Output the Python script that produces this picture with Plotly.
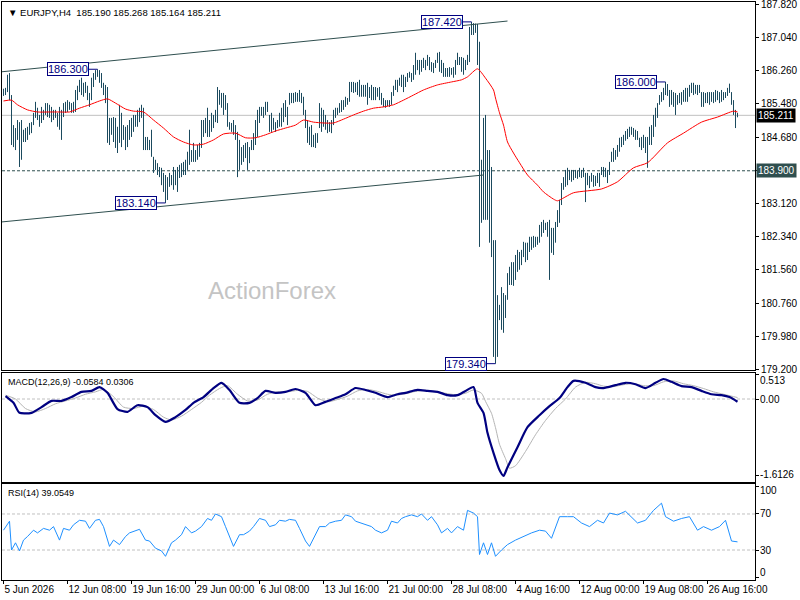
import plotly.graph_objects as go
from plotly.subplots import make_subplots

# EURJPY H4 bars (high / low per bar, 2px per bar)
bar_high = [
    185.84, 185.86, 186.17, 186.21, 185.69, 184.98, 184.91, 185.10, 185.05, 185.10,
    184.87, 184.91, 184.94, 185.03, 185.05, 185.27, 185.53, 185.39, 185.22, 185.41,
    185.34, 185.50, 185.50, 185.46, 185.41, 185.34, 185.34, 185.27, 185.41, 185.34,
    185.50, 185.53, 185.57, 185.53, 185.50, 185.53, 185.81, 185.91, 186.05, 186.10,
    185.98, 186.00, 185.91, 185.74, 186.10, 186.21, 186.28, 186.30, 186.28, 186.21,
    185.98, 185.93, 185.88, 185.15, 185.15, 185.17, 185.15, 184.94, 185.46, 185.27,
    184.98, 184.94, 184.98, 185.10, 185.15, 185.22, 185.22, 185.34, 185.39, 185.46,
    185.39, 184.70, 184.70, 184.63, 184.87, 184.23, 184.16, 184.08, 183.99, 183.97,
    183.85, 183.80, 183.75, 183.85, 183.80, 183.99, 183.92, 183.99, 184.04, 184.08,
    184.11, 184.16, 184.35, 184.87, 184.39, 184.56, 184.39, 184.51, 184.56, 185.10,
    185.10, 185.15, 185.39, 185.10, 185.27, 185.22, 185.34, 185.88, 185.81, 185.74,
    185.74, 185.69, 185.50, 185.05, 185.03, 185.10, 184.98, 184.82, 184.63, 184.46,
    184.51, 184.56, 184.58, 184.46, 184.63, 184.79, 185.10, 185.34, 185.41, 185.41,
    185.41, 185.53, 185.53, 185.22, 185.27, 185.15, 185.05, 185.10, 185.27, 185.39,
    185.50, 185.57, 185.41, 185.74, 185.74, 185.74, 185.76, 185.74, 185.81, 185.74,
    185.65, 185.34, 185.10, 184.94, 184.98, 184.75, 184.79, 184.79, 185.50, 185.39,
    185.34, 185.22, 185.10, 185.05, 185.10, 185.34, 185.39, 185.39, 185.50, 185.57,
    185.57, 185.65, 185.62, 186.00, 186.00, 186.00, 185.98, 186.00, 186.05, 185.93,
    185.93, 185.93, 185.98, 185.88, 185.93, 185.88, 185.88, 185.86, 185.88, 185.74,
    185.62, 185.57, 185.57, 185.57, 185.76, 185.91, 186.05, 186.05, 186.10, 186.17,
    186.17, 186.12, 186.21, 186.24, 186.21, 186.40, 186.69, 186.52, 186.52, 186.52,
    186.57, 186.52, 186.64, 186.59, 186.47, 186.45, 186.52, 186.69, 186.71, 186.52,
    186.45, 186.33, 186.33, 186.35, 186.33, 186.35, 186.52, 186.69, 186.59, 186.59,
    186.57, 186.52, 186.64, 187.30, 187.42, 187.39, 187.38, 187.37, 186.95, 184.16,
    185.15, 185.22, 184.39, 184.39, 183.99, 182.26, 182.26, 180.96, 180.73, 181.15,
    181.01, 180.96, 181.48, 181.63, 181.74, 181.74, 181.91, 182.03, 181.98, 182.03,
    182.22, 182.20, 182.20, 182.34, 182.34, 182.36, 182.34, 182.34, 182.62, 182.69,
    182.74, 182.67, 182.69, 182.74, 182.55, 182.55, 182.69, 182.97, 183.21, 183.61,
    183.75, 183.92, 183.97, 183.92, 183.92, 183.92, 183.92, 183.90, 183.97, 183.92,
    183.97, 183.85, 183.85, 183.78, 183.85, 183.80, 183.78, 183.85, 183.85, 183.99,
    183.99, 183.97, 183.92, 184.11, 184.35, 184.44, 184.39, 184.51, 184.68, 184.70,
    184.75, 184.84, 184.89, 184.94, 184.94, 184.91, 184.87, 184.84, 184.68, 184.70,
    184.75, 184.70, 184.70, 184.94, 184.98, 185.22, 185.39, 185.50, 185.69, 185.76,
    185.86, 186.00, 185.95, 185.81, 185.81, 185.76, 185.74, 185.69, 185.74, 185.76,
    185.81, 185.86, 185.86, 185.93, 185.98, 185.98, 185.93, 185.93, 185.93, 185.76,
    185.76, 185.74, 185.76, 185.76, 185.76, 185.76, 185.81, 185.79, 185.76, 185.81,
    185.76, 185.76, 185.86, 185.96, 185.76, 185.57, 185.34, 185.268,
]
bar_low = [
    185.67, 185.69, 185.76, 185.57, 184.51, 184.46, 184.39, 184.63, 183.99, 184.16,
    184.58, 184.58, 184.63, 184.75, 184.79, 184.98, 185.15, 185.10, 184.94, 185.03,
    185.10, 185.22, 185.17, 185.15, 185.05, 185.10, 185.15, 184.94, 184.87, 184.63,
    185.17, 185.27, 185.29, 185.34, 185.27, 185.27, 185.29, 185.57, 185.76, 185.69,
    185.65, 185.74, 185.57, 185.41, 185.57, 185.88, 186.05, 186.12, 185.98, 185.86,
    185.69, 185.50, 184.56, 184.51, 184.75, 184.58, 184.44, 184.32, 184.56, 184.46,
    184.63, 184.39, 184.46, 184.63, 184.70, 184.82, 184.94, 184.94, 185.05, 185.15,
    184.39, 184.39, 184.39, 184.39, 184.23, 183.85, 183.92, 183.80, 183.75, 183.56,
    183.40, 183.14, 183.21, 183.52, 183.56, 183.45, 183.56, 183.40, 183.73, 183.75,
    183.80, 183.80, 183.92, 184.04, 184.11, 184.11, 184.11, 184.16, 184.23, 184.44,
    184.70, 184.79, 184.70, 184.70, 184.82, 184.91, 185.05, 185.03, 185.46, 185.39,
    185.22, 185.34, 184.94, 184.87, 184.82, 184.75, 184.63, 183.75, 183.92, 184.04,
    184.11, 184.20, 183.92, 184.08, 184.39, 184.39, 184.51, 184.70, 185.03, 185.20,
    185.15, 185.22, 185.29, 184.82, 184.82, 184.87, 184.82, 184.91, 184.94, 184.94,
    185.05, 185.17, 184.98, 185.46, 185.50, 185.50, 185.53, 185.53, 185.53, 185.50,
    185.22, 184.91, 184.56, 184.51, 184.46, 184.46, 184.44, 184.56, 184.91, 184.82,
    184.94, 184.87, 184.79, 184.82, 184.79, 184.98, 185.15, 185.22, 185.27, 185.29,
    185.34, 185.41, 185.46, 185.53, 185.76, 185.74, 185.76, 185.69, 185.65, 185.65,
    185.65, 185.65, 185.46, 185.62, 185.57, 185.57, 185.57, 185.65, 185.57, 185.46,
    185.41, 185.39, 185.43, 185.41, 185.46, 185.67, 185.81, 185.76, 185.91, 185.88,
    185.76, 185.88, 186.00, 186.10, 186.00, 186.05, 186.17, 186.28, 186.17, 186.24,
    186.33, 186.28, 186.38, 186.28, 186.24, 186.21, 186.33, 186.45, 186.24, 186.21,
    186.12, 186.12, 186.12, 186.12, 186.17, 186.10, 186.17, 186.40, 186.40, 186.24,
    186.17, 186.28, 186.40, 186.47, 187.11, 187.11, 187.16, 186.40, 182.10, 182.67,
    182.74, 182.74, 182.74, 182.20, 181.86, 179.50, 179.34, 179.50, 180.37, 180.14,
    180.07, 180.42, 180.85, 181.20, 181.20, 181.18, 181.32, 181.51, 181.56, 181.67,
    181.86, 181.74, 181.79, 181.98, 182.03, 182.08, 182.10, 182.15, 182.20, 182.34,
    182.43, 182.50, 182.34, 181.32, 181.96, 181.91, 182.20, 182.57, 182.67, 183.09,
    183.45, 183.52, 183.56, 183.68, 183.64, 183.68, 183.73, 183.71, 183.75, 183.73,
    183.75, 183.16, 183.56, 183.49, 183.64, 183.52, 183.54, 183.61, 183.52, 183.80,
    183.75, 183.75, 183.61, 183.80, 184.11, 184.11, 184.16, 184.23, 184.35, 184.46,
    184.51, 184.61, 184.65, 184.70, 184.75, 184.70, 184.63, 184.63, 184.46, 184.39,
    184.44, 184.32, 183.97, 184.51, 184.51, 184.70, 184.94, 185.15, 185.46, 185.53,
    185.57, 185.69, 185.67, 185.41, 185.46, 185.41, 185.22, 185.46, 185.50, 185.46,
    185.53, 185.53, 185.53, 185.65, 185.74, 185.69, 185.72, 185.69, 185.74, 185.41,
    185.41, 185.50, 185.50, 185.46, 185.53, 185.50, 185.53, 185.57, 185.50, 185.53,
    185.57, 185.62, 185.67, 185.74, 185.46, 185.22, 184.91, 185.164,
]
last_ohlc = [185.190, 185.268, 185.164, 185.211]

# red moving average, sampled along the curve
ma_bar = [0, 4, 7, 12, 17, 23, 28, 33, 38, 43, 48, 52, 56, 61, 65, 70, 75, 80, 85, 90,
          95, 100, 105, 110, 116, 121, 126, 131, 136, 141, 146, 150, 155, 160, 165, 170,
          175, 180, 185, 190, 195, 200, 205, 210, 217, 224, 229, 232, 237, 241, 245, 246,
          248, 250, 252, 255, 258, 262, 267, 270, 275, 277, 285, 299, 307, 315, 322, 332,
          340, 349, 357, 365, 367]
ma_val = [185.55, 185.57, 185.46, 185.34, 185.29, 185.29, 185.29, 185.29, 185.38, 185.46,
          185.55, 185.60, 185.50, 185.36, 185.31, 185.29, 185.10, 184.91, 184.70, 184.58,
          184.51, 184.53, 184.63, 184.77, 184.79, 184.68, 184.68, 184.75, 184.84, 184.91,
          184.98, 185.10, 185.05, 185.03, 185.03, 185.12, 185.22, 185.31, 185.38, 185.41,
          185.46, 185.57, 185.69, 185.81, 185.93, 186.00, 186.05, 186.12, 186.31, 186.09,
          185.81, 185.62, 185.27, 184.98, 184.58, 184.32, 184.09, 183.80, 183.56, 183.40,
          183.23, 183.19, 183.38, 183.47, 183.64, 183.97, 184.09, 184.56, 184.79, 185.05,
          185.17, 185.31, 185.29]

# channel lines: (bar, price) start and end
chan_upper = [(-1, 186.24), (252, 187.44)]
chan_lower = [(-1, 182.69), (240, 183.80)]
support_level = 183.900

# swing labels
swing_bar = [47, 81, 234, 246, 331]
swing_price = [186.300, 183.140, 187.420, 179.340, 186.000]

# MACD(12,26,9)
macd_bar = [1, 5, 8, 14, 19, 24, 29, 34, 39, 44, 48, 52, 57, 62, 67, 72, 76, 81, 86, 91,
            95, 100, 105, 109, 113, 118, 123, 127, 131, 136, 141, 146, 151, 156, 161, 166,
            171, 176, 181, 186, 192, 197, 201, 207, 212, 217, 222, 227, 231, 235, 237, 240,
            242, 245, 248, 250, 252, 257, 262, 268, 273, 278, 282, 285, 291, 296, 300, 306,
            311, 316, 321, 326, 330, 334, 339, 344, 349, 354, 359, 363, 367]
macd_val = [0.06, -0.08, -0.29, -0.29, -0.17, -0.04, -0.04, 0.04, 0.15, 0.17,
            0.25, 0.13, -0.21, -0.27, -0.13, -0.17, -0.34, -0.48, -0.38, -0.23,
            -0.08, 0.04, 0.23, 0.34, 0.19, -0.08, -0.08, 0.02, 0.17, 0.13,
            0.15, 0.21, 0.13, -0.13, -0.06, 0.02, 0.10, 0.23, 0.19, 0.13,
            0.04, 0.10, 0.13, 0.19, 0.17, 0.15, 0.08, 0.08, 0.17, 0.25,
            -0.08, -0.29, -0.71, -1.13, -1.49, -1.6126, -1.43, -1.01, -0.59, -0.34,
            -0.15, 0.02, 0.25, 0.38, 0.34, 0.25, 0.23, 0.29, 0.34, 0.31,
            0.23, 0.34, 0.42, 0.36, 0.27, 0.25, 0.17, 0.10, 0.08, 0.04,
            -0.0584]
sig_bar = [1, 6, 11, 16, 21, 26, 31, 36, 41, 46, 50, 55, 60, 65, 70, 75, 80, 84, 89, 94,
           99, 103, 108, 112, 117, 122, 127, 132, 137, 142, 147, 152, 157, 162, 167, 172,
           177, 182, 187, 192, 196, 201, 206, 211, 216, 221, 226, 231, 235, 239, 241, 244,
           246, 248, 251, 253, 256, 261, 266, 271, 276, 281, 286, 291, 296, 300, 305, 310,
           315, 320, 325, 330, 335, 340, 345, 350, 355, 360, 365, 367]
sig_val = [0.08, 0.0, -0.2, -0.27, -0.2, -0.1, -0.04, 0.02, 0.1, 0.15,
           0.2, 0.05, -0.17, -0.2, -0.15, -0.22, -0.38, -0.44, -0.36, -0.22,
           -0.07, 0.08, 0.22, 0.28, 0.1, -0.04, -0.02, 0.1, 0.15, 0.15,
           0.18, 0.16, 0.02, -0.06, -0.01, 0.06, 0.17, 0.2, 0.16, 0.1,
           0.08, 0.11, 0.16, 0.18, 0.16, 0.12, 0.09, 0.12, 0.19, 0.12,
           -0.05, -0.3, -0.6, -0.95, -1.25, -1.45, -1.4, -1.1, -0.75, -0.45,
           -0.2, 0.0, 0.25, 0.35, 0.32, 0.27, 0.26, 0.3, 0.32, 0.28,
           0.28, 0.36, 0.38, 0.32, 0.28, 0.22, 0.15, 0.1, 0.05, 0.0306]
macd_ticks = [0.513, 0.0, -1.6126]
macd_ticktext = ["0.513", "0.00", "-1.6126"]

# RSI(14)
rsi_bar = [0, 3, 4, 6, 8, 10, 12, 15, 17, 20, 23, 25, 28, 30, 33, 35, 38, 41, 43, 46,
           48, 50, 53, 55, 58, 61, 63, 66, 68, 71, 73, 76, 79, 81, 84, 86, 89, 91, 94, 96,
           99, 102, 104, 106, 109, 111, 115, 118, 120, 123, 125, 128, 131, 133, 136, 138,
           141, 143, 146, 148, 151, 153, 156, 158, 161, 163, 166, 169, 171, 174, 176, 179,
           181, 184, 186, 189, 192, 194, 197, 199, 201, 204, 207, 209, 212, 214, 217, 219,
           222, 224, 227, 230, 232, 235, 237, 238, 240, 242, 244, 246, 249, 252, 256, 260,
           264, 268, 271, 274, 278, 282, 285, 289, 293, 297, 300, 303, 307, 311, 314, 317,
           321, 325, 329, 331, 335, 339, 343, 347, 350, 354, 358, 361, 364, 367]
rsi_val = [52, 62, 30, 38, 29, 41, 45, 52, 49, 54, 52, 56, 41, 54, 52, 58, 63, 62, 54, 63,
           64, 56, 34, 41, 36, 45, 49, 51, 53, 41, 40, 32, 29, 23, 38, 41, 47, 56, 49, 51,
           56, 65, 63, 70, 67, 56, 34, 47, 47, 51, 56, 65, 63, 56, 58, 63, 62, 64, 63, 54,
           40, 34, 47, 56, 56, 60, 62, 63, 69, 67, 62, 60, 58, 56, 52, 49, 52, 62, 60, 65,
           67, 69, 67, 70, 63, 67, 58, 49, 54, 49, 56, 52, 74, 71, 67, 25, 38, 25, 38, 23,
           30, 36, 41, 45, 49, 52, 51, 43, 67, 67, 67, 60, 56, 63, 60, 71, 69, 73, 67, 60,
           63, 74, 82, 67, 62, 65, 67, 52, 56, 52, 56, 63, 40, 39.0549]
rsi_levels = [70, 30]
rsi_ticks = [100, 70, 30, 0]

# axes
price_ticks = [187.820, 187.040, 186.260, 185.480, 184.680, 183.900,
               183.120, 182.340, 181.560, 180.760, 179.980, 179.200]
date_bars = [0, 32, 64, 96, 128, 160, 192, 224, 256, 288, 320, 352]
date_labels = ["5 Jun 2026", "12 Jun 08:00", "19 Jun 16:00", "29 Jun 00:00",
               "6 Jul 08:00", "13 Jul 16:00", "21 Jul 00:00", "28 Jul 08:00",
               "4 Aug 16:00", "12 Aug 00:00", "19 Aug 08:00", "26 Aug 16:00"]

FONT = "Liberation Sans"
BAR = "#1b4a5e"
NAVY = "#000080"

fig = make_subplots(rows=3, cols=1, shared_xaxes=True, vertical_spacing=0.005)

n = min(len(bar_high), len(bar_low))
bx, by = [], []
for i in range(n):
    bx += [i, i, None]
    by += [bar_low[i], bar_high[i], None]
fig.add_trace(go.Scatter(x=bx, y=by, mode="lines", line=dict(color=BAR, width=1),
                         hoverinfo="skip"), row=1, col=1)
fig.add_trace(go.Scatter(x=ma_bar, y=ma_val, mode="lines",
                         line=dict(color="#ff0000", width=1, shape="spline", smoothing=0.6)),
              row=1, col=1)

fig.add_trace(go.Scatter(x=sig_bar, y=sig_val, mode="lines",
                         line=dict(color="#b4b4b4", width=1, shape="spline", smoothing=0.6)),
              row=2, col=1)
fig.add_trace(go.Scatter(x=macd_bar, y=macd_val, mode="lines",
                         line=dict(color=NAVY, width=2.2, shape="spline", smoothing=0.6)),
              row=2, col=1)

fig.add_trace(go.Scatter(x=rsi_bar, y=rsi_val, mode="lines",
                         line=dict(color="#1e90ff", width=1)), row=3, col=1)

# lines on the price panel
for (a, b) in (chan_upper, chan_lower):
    fig.add_shape(type="line", xref="x", yref="y", x0=a[0], y0=a[1], x1=b[0], y1=b[1],
                  line=dict(color="#2f4f4f", width=1))
fig.add_shape(type="line", xref="paper", yref="y", x0=0, x1=1, y0=support_level,
              y1=support_level, layer="below",
              line=dict(color="#2f4f4f", width=1, dash="3px,2px"))
fig.add_shape(type="line", xref="paper", yref="y", x0=0, x1=1, y0=last_ohlc[3],
              y1=last_ohlc[3], layer="below", line=dict(color="#c0c0c0", width=1))

# indicator levels
fig.add_shape(type="line", xref="paper", yref="y2", x0=0, x1=1, y0=0, y1=0, layer="below",
              line=dict(color="#c0c0c0", width=1, dash="3px,2px"))
for lv in rsi_levels:
    fig.add_shape(type="line", xref="paper", yref="y3", x0=0, x1=1, y0=lv, y1=lv,
                  layer="below", line=dict(color="#c0c0c0", width=1, dash="3px,2px"))

# swing labels with leaders
for b, p in zip(swing_bar, swing_price):
    fig.add_shape(type="line", xref="x", yref="y", x0=b - 4.5, x1=b, y0=p, y1=p,
                  line=dict(color=NAVY, width=1))
    fig.add_annotation(x=b, y=p, xref="x", yref="y", xanchor="right", yanchor="middle",
                       xshift=-9, text=f"{p:.3f}", showarrow=False, bgcolor="white",
                       bordercolor=NAVY, borderwidth=1, borderpad=0,
                       font=dict(family=FONT, size=11, color=NAVY))

# price boxes on the axis
fig.add_annotation(x=1, y=last_ohlc[3], xref="paper", yref="y", xanchor="left",
                   yanchor="middle", xshift=1, text=f"{last_ohlc[3]:.3f}", showarrow=False,
                   bgcolor="black", borderpad=1, font=dict(family=FONT, size=10, color="white"))
fig.add_annotation(x=1, y=support_level, xref="paper", yref="y", xanchor="left",
                   yanchor="middle", xshift=1, text=f"{support_level:.3f}", showarrow=False,
                   bgcolor="#2f4f4f", borderpad=1, font=dict(family=FONT, size=10, color="white"))

# indicator axis labels
for v, t, s in zip(macd_ticks, macd_ticktext, [-6, 0, 1]):
    fig.add_annotation(x=1, y=v, xref="paper", yref="y2", xanchor="left", yanchor="middle",
                       xshift=3, yshift=s, text=t, showarrow=False,
                       font=dict(family=FONT, size=10, color="black"))
for v, s in zip(rsi_ticks, [-4, 0, 0, 5]):
    fig.add_annotation(x=1, y=v, xref="paper", yref="y3", xanchor="left", yanchor="middle",
                       xshift=3, yshift=s, text=str(v), showarrow=False,
                       font=dict(family=FONT, size=10, color="black"))

# texts
sp = "\u00a0"
title = f"\u25bc{sp}EURJPY,H4{sp}{sp}" + sp.join(f"{v:.3f}" for v in last_ohlc)
fig.add_annotation(x=0, y=1, xref="paper", yref="paper", xanchor="left", yanchor="top",
                   xshift=4, yshift=-3, text=title, showarrow=False,
                   font=dict(family=FONT, size=9.5, color="black"))
fig.add_annotation(x=0, y=1, xref="paper", yref="y2 domain", xanchor="left", yanchor="top",
                   xshift=4, yshift=-2,
                   text=f"MACD(12,26,9){sp}{macd_val[-1]:.4f}{sp}{sig_val[-1]:.4f}",
                   showarrow=False, font=dict(family=FONT, size=9, color="black"))
fig.add_annotation(x=0, y=1, xref="paper", yref="y3 domain", xanchor="left", yanchor="top",
                   xshift=4, yshift=-2, text=f"RSI(14){sp}{rsi_val[-1]:.4f}",
                   showarrow=False, font=dict(family=FONT, size=9, color="black"))
fig.add_annotation(x=0.3586, y=0.5017, xref="paper", yref="paper", text="ActionForex",
                   showarrow=False, font=dict(family=FONT, size=24, color="#c4c4c4"))

axis_common = dict(showgrid=False, zeroline=False, showline=True, mirror=True,
                   linecolor="black", linewidth=1, automargin=False)
# range chosen so one bar = 2px and bars fall on pixel centres
fig.update_xaxes(range=[-0.75, 375.75], **axis_common)
fig.update_xaxes(showticklabels=False, ticks="", row=1, col=1)
fig.update_xaxes(showticklabels=False, ticks="", row=2, col=1)
fig.update_xaxes(tickvals=date_bars, ticktext=date_labels, ticks="outside", ticklen=3,
                 tickcolor="black", ticklabelposition="outside right", tickangle=0,
                 ticklabeloverflow="allow",
                 tickfont=dict(family=FONT, size=10, color="black"), row=3, col=1)

price_text = ["" if v == support_level else f"{v:.3f}" for v in price_ticks]

fig.update_layout(
    width=800, height=600, margin=dict(l=2, r=45, t=2, b=20, autoexpand=False),
    paper_bgcolor="white", plot_bgcolor="white", showlegend=False, hovermode=False,
    font=dict(family=FONT, size=10, color="black"),
    yaxis=dict(domain=[0.3633, 1.0], side="right", range=[179.19, 187.89],
               tickvals=price_ticks, ticktext=price_text, ticklabeloverflow="allow",
               ticks="outside", ticklen=3, tickcolor="black",
               tickfont=dict(family=FONT, size=10, color="black"), **axis_common),
    yaxis2=dict(domain=[0.1696, 0.3581], side="right", range=[-1.74, 0.545],
                tickvals=macd_ticks, showticklabels=False, ticks="outside", ticklen=3,
                tickcolor="black", **axis_common),
    yaxis3=dict(domain=[0.0, 0.1661], side="right", range=[-3.3, 103.3],
                tickvals=rsi_ticks, showticklabels=False, ticks="outside", ticklen=3,
                tickcolor="black", **axis_common),
)

fig.write_html("out.html", config={"displayModeBar": False},
               post_script="document.body.style.margin='0px';")
